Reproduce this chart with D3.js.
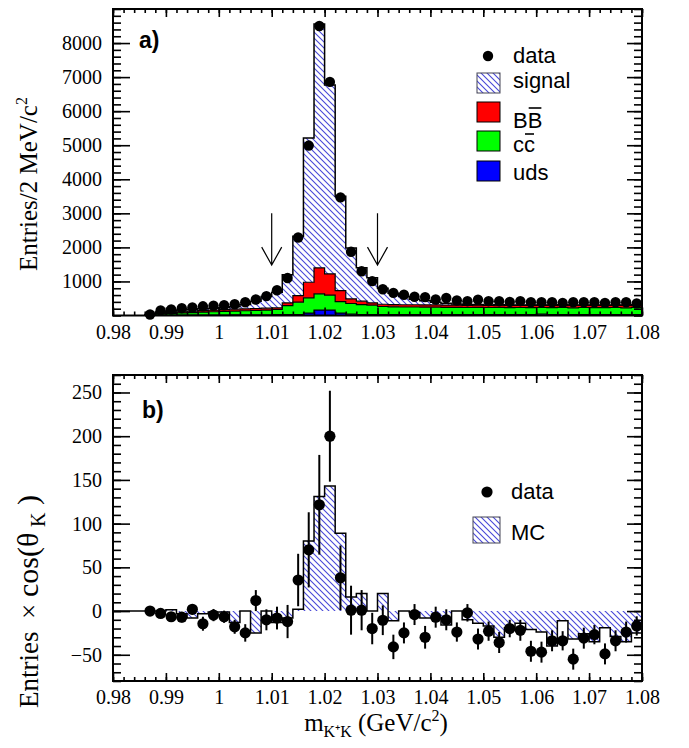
<!DOCTYPE html>
<html>
<head>
<meta charset="utf-8">
<script src="https://cdn.jsdelivr.net/npm/d3@7"></script>
<style>
  body { margin: 0; background: #fff; }
  svg { display: block; }
</style>
</head>
<body>
<div id="chart"></div>
<script>
// 2 MeV bins, centres in GeV/c^2
const binCenters = [0.987, 0.989, 0.991, 0.993, 0.995, 0.997, 0.999, 1.001, 1.003, 1.005,
  1.007, 1.009, 1.011, 1.013, 1.015, 1.017, 1.019, 1.021, 1.023, 1.025,
  1.027, 1.029, 1.031, 1.033, 1.035, 1.037, 1.039, 1.041, 1.043, 1.045,
  1.047, 1.049, 1.051, 1.053, 1.055, 1.057, 1.059, 1.061, 1.063, 1.065,
  1.067, 1.069, 1.071, 1.073, 1.075, 1.077, 1.079];

// panel a) : data and stacked MC components
const dataTop = [30, 150, 175, 215, 235, 270, 290, 300, 330, 390,
  470, 570, 740, 1100, 2290, 4990, 8500, 6860, 3470, 1870,
  1300, 1010, 770, 665, 610, 550, 540, 470, 515, 440,
  420, 465, 420, 420, 400, 420, 390, 390, 390, 372,
  390, 390, 390, 372, 390, 390, 355];
const uds = [5, 10, 10, 12, 12, 15, 15, 15, 18, 18,
  20, 20, 25, 30, 30, 70, 160, 160, 70, 40,
  30, 30, 30, 30, 30, 30, 30, 30, 30, 30,
  25, 25, 25, 25, 25, 25, 25, 40, 25, 25,
  25, 25, 25, 25, 25, 25, 25];
const ccbar = [15, 40, 50, 63, 73, 85, 95, 105, 112, 122,
  130, 140, 151, 260, 360, 448, 476, 436, 340, 312,
  292, 272, 235, 225, 220, 220, 215, 215, 210, 210,
  210, 215, 210, 215, 205, 210, 205, 195, 205, 215,
  200, 210, 205, 205, 210, 200, 215];
const bbbar = [5, 20, 30, 35, 40, 45, 50, 55, 55, 55,
  55, 55, 49, 82, 196, 459, 764, 624, 323, 138,
  98, 70, 65, 65, 65, 65, 65, 65, 65, 65,
  65, 65, 65, 65, 70, 65, 65, 65, 65, 65,
  70, 65, 70, 65, 65, 75, 70];
const signal = [5, 30, 40, 50, 55, 55, 55, 60, 75, 125,
  215, 345, 458, 828, 1739, 4233, 7160, 5550, 2767, 1495,
  980, 733, 470, 330, 245, 165, 120, 80, 55, 35,
  20, 15, 12, 10, 10, 10, 10, 10, 10, 8,
  8, 8, 7, 7, 7, 6, 6];

// panel b) : entries x cos(theta_K)
const cosData = [0, -2.7, -6.5, -7, 2, -14.5, -4.6, -6.5, -18, -25,
  12, -10, -8, -12, 35.5, 70, 121.6, 200, 38, 1,
  1, -20, -10.5, -41, -25, -4, -30, -7, -10, -24,
  -2, -32, -23, -36, -20, -22, -46, -47, -34, -34,
  -55, -31, -27, -49, -34, -24, -17];
const cosErr = [4, 4, 5, 6, 6, 8, 7, 7, 8, 10,
  12, 12, 13, 19, 30, 43, 57, 52, 37, 28,
  23, 18, 17, 14, 12, 12, 13, 12, 12, 11,
  10, 12, 11, 12, 10, 12, 12, 12, 12, 11,
  12, 12, 11, 12, 12, 12, 11];
const cosMC = [0, 0, 1.5, -3, -8, -3, -1, -1, -13, 0,
  -25, 0, -13, -8, 2, 80, 131, 143, 89, 16,
  20, 0, 20, -11, 0, -2, -8, -8, -16, 0,
  -10, -14, -17, -30, -19, -14, -21, -24, -40, -11,
  -32, -26, -35, -19, -29, -35, -25];

// signal window arrows
const arrowX = [1.01, 1.03];

// ticks
const xTicks = [0.98, 0.99, 1, 1.01, 1.02, 1.03, 1.04, 1.05, 1.06, 1.07, 1.08];
const xTickLabels = ["0.98", "0.99", "1", "1.01", "1.02", "1.03", "1.04", "1.05", "1.06", "1.07", "1.08"];
const yTopTicks = [1000, 2000, 3000, 4000, 5000, 6000, 7000, 8000];
const yBotTicks = [-50, 0, 50, 100, 150, 200, 250];

const legendTop = ["data", "signal", "BB", "cc", "uds"];
const legendBot = ["data", "MC"];

const W = 689, H = 748;
const half = 0.001;
const serif = "'Liberation Serif', 'Times New Roman', serif";
const sans = "'Liberation Sans', Arial, Helvetica, sans-serif";

const x = d3.scaleLinear().domain([0.98, 1.08]).range([113, 642]);
const yTop = d3.scaleLinear().domain([0, 9000]).range([315.5, 9]);
const yBot = d3.scaleLinear().domain([-80, 270]).range([681, 375]);

const svg = d3.select("#chart").append("svg")
  .attr("width", W).attr("height", H)
  .style("font-family", serif);

// hatch pattern
const defs = svg.append("defs");
const pat = defs.append("pattern")
  .attr("id", "hatch")
  .attr("patternUnits", "userSpaceOnUse")
  .attr("width", 6).attr("height", 6);
pat.append("rect").attr("width", 6).attr("height", 6).attr("fill", "#fff");
pat.append("path")
  .attr("d", "M0,0L6,6M-1,5L1,7M5,-1L7,1")
  .attr("stroke", "#4848d8").attr("stroke-width", 1.1);

// turn bin values into step points
function stepPts(lo, hi) {
  const pts = [];
  binCenters.forEach((c, i) => {
    pts.push({x: c - half, y0: lo[i], y1: hi[i]});
    pts.push({x: c + half, y0: lo[i], y1: hi[i]});
  });
  return pts;
}

function drawFrame(y, top, bottom, yTicks, yMinorCount, leftLen) {
  const xMinor = x.ticks(50);
  const yMinor = y.ticks(yMinorCount);

  const g = svg.append("g").attr("class", "axes");

  // bottom
  g.append("g").attr("transform", `translate(0,${bottom})`)
    .call(d3.axisBottom(x).tickValues(xMinor).tickSize(-4).tickFormat(""));
  g.append("g").attr("transform", `translate(0,${bottom})`)
    .call(d3.axisBottom(x).tickValues(xTicks).tickSize(-8).tickPadding(9)
      .tickFormat((d, i) => xTickLabels[i]));
  // top
  g.append("g").attr("transform", `translate(0,${top})`)
    .call(d3.axisTop(x).tickValues(xMinor).tickSize(-4).tickFormat(""));
  g.append("g").attr("transform", `translate(0,${top})`)
    .call(d3.axisTop(x).tickValues(xTicks).tickSize(-8).tickFormat(""));
  // left
  g.append("g").attr("transform", `translate(${x.range()[0]},0)`)
    .call(d3.axisLeft(y).tickValues(yMinor).tickSize(-8).tickFormat(""));
  g.append("g").attr("transform", `translate(${x.range()[0]},0)`)
    .call(d3.axisLeft(y).tickValues(yTicks).tickSize(-leftLen).tickPadding(11)
      .tickFormat(d3.format("d")));
  // right
  g.append("g").attr("transform", `translate(${x.range()[1]},0)`)
    .call(d3.axisRight(y).tickValues(yMinor).tickSize(-8).tickFormat(""));
  g.append("g").attr("transform", `translate(${x.range()[1]},0)`)
    .call(d3.axisRight(y).tickValues(yTicks).tickSize(-15).tickFormat(""));

  g.selectAll(".domain").remove();
  g.selectAll("g").attr("font-family", null).attr("font-size", null);
  g.selectAll(".tick line").attr("stroke", "#000").attr("stroke-width", 1.6);
  g.selectAll("text")
    .style("font-family", serif).style("font-size", "20px").attr("fill", "#000");

  g.append("rect")
    .attr("x", x.range()[0]).attr("y", top)
    .attr("width", x.range()[1] - x.range()[0]).attr("height", bottom - top)
    .attr("fill", "none").attr("stroke", "#000").attr("stroke-width", 2);
}

// ---------- panel a) ----------
const rows = binCenters.map((c, i) => ({c, uds: uds[i], cc: ccbar[i], bb: bbbar[i], sig: signal[i]}));
const stacked = d3.stack().keys(["uds", "cc", "bb", "sig"])(rows);
const fills = {uds: "#0000ff", cc: "#00ff00", bb: "#ff0000", sig: "url(#hatch)"};

const areaTop = d3.area()
  .x(d => x(d.x)).y0(d => yTop(d.y0)).y1(d => yTop(d.y1));
const lineTop = d3.line().x(d => x(d.x)).y(d => yTop(d.y1));

stacked.forEach(layer => {
  const lo = layer.map(d => d[0]), hi = layer.map(d => d[1]);
  svg.append("path")
    .attr("d", areaTop(stepPts(lo, hi)))
    .attr("fill", fills[layer.key]);
});
stacked.forEach(layer => {
  const hi = layer.map(d => d[1]);
  const pts = stepPts(hi.map(() => 0), hi);
  const first = pts[0].x, last = pts[pts.length - 1].x;
  svg.append("path")
    .attr("d", lineTop([{x: first, y1: 0}, ...pts, {x: last, y1: 0}]))
    .attr("fill", "none").attr("stroke", "#000")
    .attr("stroke-width", layer.key === "sig" ? 1.5 : 1.2);
});

// arrows
arrowX.forEach(ax => {
  const px = x(ax), y1 = yTop(3000), y2 = yTop(1480);
  svg.append("path")
    .attr("d", `M${px},${y1}L${px},${y2}M${px - 10},${y2 - 18}L${px},${y2}L${px + 10},${y2 - 18}`)
    .attr("fill", "none").attr("stroke", "#000").attr("stroke-width", 1.2);
});

// data points
svg.append("g").selectAll("circle")
  .data(binCenters)
  .join("circle")
  .attr("cx", d => x(d))
  .attr("cy", (d, i) => yTop(dataTop[i]))
  .attr("r", 5.2)
  .attr("fill", "#000");

drawFrame(yTop, 9, 315.5, yTopTicks, 45, 17);

// ---------- panel b) ----------
const areaBot = d3.area()
  .x(d => x(d.x)).y0(d => yBot(d.y0)).y1(d => yBot(d.y1));
const lineBot = d3.line().x(d => x(d.x)).y(d => yBot(d.y1));
const mcPts = stepPts(cosMC.map(() => 0), cosMC);

svg.append("path")
  .attr("d", areaBot(mcPts))
  .attr("fill", "url(#hatch)");
svg.append("path")
  .attr("d", lineBot([{x: 0.98, y1: 0}, {x: mcPts[0].x, y1: 0}, ...mcPts]))
  .attr("fill", "none").attr("stroke", "#000").attr("stroke-width", 1.5);

svg.append("g").selectAll("line")
  .data(binCenters)
  .join("line")
  .attr("x1", d => x(d)).attr("x2", d => x(d))
  .attr("y1", (d, i) => yBot(cosData[i] - cosErr[i]))
  .attr("y2", (d, i) => yBot(cosData[i] + cosErr[i]))
  .attr("stroke", "#000").attr("stroke-width", 2);

svg.append("g").selectAll("circle")
  .data(binCenters)
  .join("circle")
  .attr("cx", d => x(d))
  .attr("cy", (d, i) => yBot(cosData[i]))
  .attr("r", 5.6)
  .attr("fill", "#000");

drawFrame(yBot, 375, 681, yBotTicks, 35, 17);

// ---------- labels ----------
svg.append("text").attr("x", 139).attr("y", 48)
  .attr("font-family", sans).attr("font-weight", "bold").attr("font-size", 23)
  .text("a)");
svg.append("text").attr("x", 142).attr("y", 418)
  .attr("font-family", sans).attr("font-weight", "bold").attr("font-size", 23)
  .text("b)");

// text with a bar over its second letter
function barredText(g, tx, ty, label, rise) {
  const t = g.append("text").attr("x", tx).attr("y", ty).text(label);
  const node = t.node();
  const w1 = node.getSubStringLength(0, 1), w2 = node.getSubStringLength(1, 1);
  g.append("line")
    .attr("x1", tx + w1 + 1).attr("x2", tx + w1 + w2 - 1)
    .attr("y1", ty - rise).attr("y2", ty - rise)
    .attr("stroke", "#000").attr("stroke-width", 1.6);
}

// legend a)
const legA = svg.append("g").attr("font-family", sans).attr("font-size", 22);
legA.append("circle").attr("cx", 488).attr("cy", 56).attr("r", 5.2).attr("fill", "#000");
legA.append("text").attr("x", 513).attr("y", 63).text(legendTop[0]);
legA.append("rect").attr("x", 477).attr("y", 73).attr("width", 23).attr("height", 20)
  .attr("fill", "url(#hatch)").attr("stroke", "#445").attr("stroke-width", 1);
legA.append("text").attr("x", 513).attr("y", 88).text(legendTop[1]);
legA.append("rect").attr("x", 477).attr("y", 102).attr("width", 23).attr("height", 20)
  .attr("fill", fills.bb).attr("stroke", "#000").attr("stroke-width", 1);
barredText(legA, 513, 128, legendTop[2], 20);
legA.append("rect").attr("x", 477).attr("y", 131).attr("width", 23).attr("height", 20)
  .attr("fill", fills.cc).attr("stroke", "#000").attr("stroke-width", 1);
barredText(legA, 513, 152, legendTop[3], 18);
legA.append("rect").attr("x", 477).attr("y", 161).attr("width", 23).attr("height", 20)
  .attr("fill", fills.uds).attr("stroke", "#000").attr("stroke-width", 1);
legA.append("text").attr("x", 513).attr("y", 180).text(legendTop[4]);

// legend b)
const legB = svg.append("g").attr("font-family", sans).attr("font-size", 22);
legB.append("circle").attr("cx", 487).attr("cy", 492).attr("r", 5.6).attr("fill", "#000");
legB.append("text").attr("x", 511).attr("y", 499).text(legendBot[0]);
legB.append("rect").attr("x", 473).attr("y", 517).attr("width", 27).attr("height", 26)
  .attr("fill", "url(#hatch)").attr("stroke", "#445").attr("stroke-width", 1);
legB.append("text").attr("x", 511).attr("y", 540).text(legendBot[1]);

// axis titles
const ytA = svg.append("text")
  .attr("transform", "translate(37,184) rotate(-90)")
  .attr("text-anchor", "middle").attr("font-size", 25);
ytA.append("tspan").text("Entries/2 MeV/c");
ytA.append("tspan").attr("font-size", 16).attr("dy", -10).text("2");

// bottom y title laid out along the axis like the original
const ytB = svg.append("text")
  .attr("transform", "translate(38,708) rotate(-90)")
  .attr("font-size", 27);
ytB.append("tspan").attr("x", 0).text("Entries");
ytB.append("tspan").attr("x", 89).text("\u00d7");
ytB.append("tspan").attr("x", 111).attr("font-size", 30).text("cos(\u03b8");
ytB.append("tspan").attr("x", 181).attr("dy", 7).attr("font-size", 20).text("K");
ytB.append("tspan").attr("x", 203).attr("dy", -7).attr("font-size", 30).text(")");

const xt = svg.append("text")
  .attr("x", 376).attr("y", 731)
  .attr("text-anchor", "middle").attr("font-size", 25);
xt.append("tspan").text("m");
xt.append("tspan").attr("font-size", 16).attr("dy", 6).text("K\u207aK");
xt.append("tspan").attr("dy", -6).text(" (GeV/c");
xt.append("tspan").attr("font-size", 16).attr("dy", -10).text("2");
xt.append("tspan").attr("dy", 10).text(")");
</script>
</body>
</html>
